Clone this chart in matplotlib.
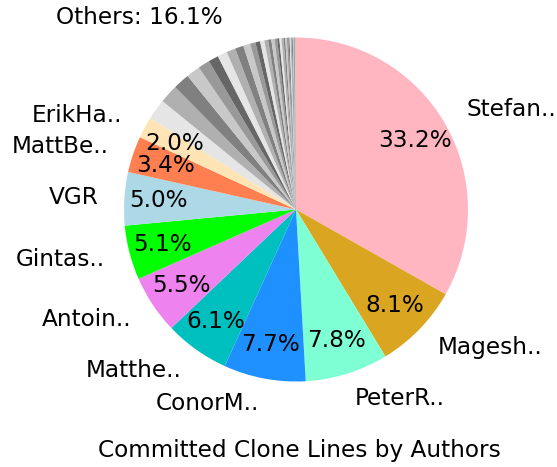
import matplotlib
matplotlib.use("Agg")
import matplotlib.pyplot as plt

authors = ["Stefan..", "Magesh..", "PeterR..", "ConorM..", "Matthe..",
           "Antoin..", "Gintas..", "VGR", "MattBe..", "ErikHa.."]
shares = [33.2, 8.1, 7.8, 7.7, 6.1, 5.5, 5.1, 5.0, 3.4, 2.0]
named_colors = ["#ffb6c1", "#daa520", "#7fffd4", "#1e90ff", "#00bfbf",
                "#ee82ee", "#00ff00", "#add8e6", "#ff7f50", "#ffe4b5"]

# remaining authors grouped as "Others" (unlabelled grey slices)
other_shares = [1.95, 1.75, 1.55, 1.3, 1.1, 0.95, 0.9, 0.85, 0.8, 0.65,
                0.5, 0.45, 0.4, 0.35, 0.3, 0.3, 0.25, 0.2, 0.2, 0.2, 0.15,
                0.15, 0.15, 0.1, 0.1, 0.1, 0.1, 0.08, 0.06, 0.05, 0.04,
                0.03, 0.02, 0.02]
grey_cycle = ["#e5e5e5", "#b0b0b0", "#808080", "#c8c8c8", "#999999", "#666666"]

others_total = 16.1
title = "Committed Clone Lines by Authors"

values = shares + other_shares
labels = authors + [""] * len(other_shares)
colors = named_colors + [grey_cycle[i % len(grey_cycle)] for i in range(len(other_shares))]

FS = 16.7
fig = plt.figure(figsize=(5.57, 4.67), dpi=100)
cx, cy = 296 / 557, 1 - 209.5 / 467
w, h = 344 / 557, 344 / 467
ax = fig.add_axes([cx - w / 2, cy - h / 2, w, h])

wedges, texts, autotexts = ax.pie(
    values, labels=labels, colors=colors, startangle=90, counterclock=False,
    autopct="%1.1f%%", pctdistance=0.8, labeldistance=1.15,
    textprops={"fontsize": FS}, wedgeprops={"linewidth": 0})
for i, t in enumerate(autotexts):
    if i >= len(shares):
        t.set_text("")
ax.set_xlim(-1, 1)
ax.set_ylim(-1, 1)
ax.set_aspect("equal")
ax.axis("off")

fig.text(139 / 557, 1 - 18 / 467, f"Others: {others_total}%", ha="center", va="center", fontsize=FS)
fig.text(299.5 / 557, 1 - 451 / 467, title, ha="center", va="center", fontsize=FS)

fig.savefig("out.png", dpi=100)
